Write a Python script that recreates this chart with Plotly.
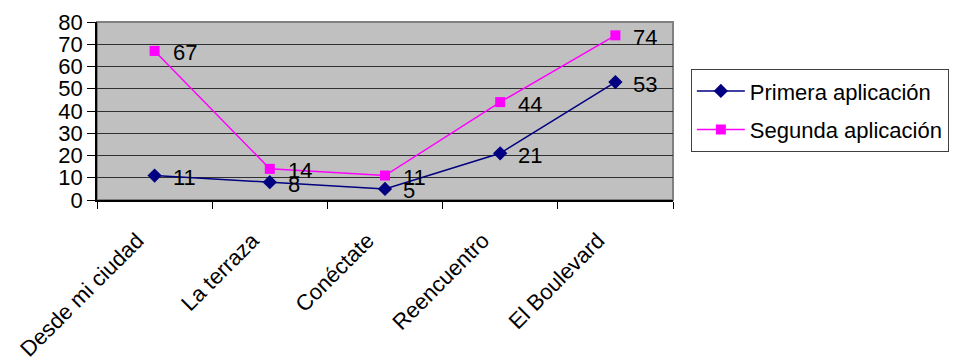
import plotly.graph_objects as go

categorias = ["Desde mi ciudad", "La terraza", "Conéctate", "Reencuentro", "El Boulevard"]
primera = [11, 8, 5, 21, 53]
segunda = [67, 14, 11, 44, 74]
y_ticks = [0, 10, 20, 30, 40, 50, 60, 70, 80]

FONT = "Liberation Sans, Arial, sans-serif"
FS = 22

fig = go.Figure()
series = [
    ("Primera aplicación", primera, "#000080", "diamond", 11, "a"),
    ("Segunda aplicación", segunda, "#FF00FF", "square", 10, "b"),
]
for nombre, valores, color, simbolo, tam, grupo in series:
    fig.add_trace(go.Scatter(
        x=categorias, y=valores, name=nombre, legendgroup=grupo,
        mode="lines+markers",
        line=dict(color=color, width=1.5),
        marker=dict(symbol=simbolo, size=tam, color=color),
        cliponaxis=False,
    ))
    # value labels to the right of each point
    for c, v in zip(categorias, valores):
        fig.add_annotation(x=c, y=v, text=str(v), showarrow=False,
                           xanchor="left", yanchor="middle", xshift=16, yshift=-2,
                           font=dict(size=FS, color="black", family=FONT))

fig.add_shape(type="rect", xref="paper", yref="paper", x0=0, y0=0, x1=1, y1=1,
              line=dict(color="#808080", width=2), fillcolor="#C0C0C0", layer="below")

# category labels, padded at the end so the rotated text sits a little lower
etiquetas = [c + "\u00a0" * 4 for c in categorias]

fig.update_layout(
    width=959, height=360,
    margin=dict(l=97, r=286, t=22, b=160, autoexpand=False),
    paper_bgcolor="white", plot_bgcolor="#C0C0C0",
    font=dict(family=FONT, size=FS, color="black"),
    showlegend=True,
    legend=dict(
        x=1.031, y=0.735, xanchor="left", yanchor="top",
        bgcolor="white", bordercolor="#404040", borderwidth=1,
        font=dict(size=FS, family=FONT), tracegroupgap=7, itemwidth=48,
    ),
    xaxis=dict(
        type="category", range=[-0.5, 4.5], tickangle=-45,
        tickvals=categorias, ticktext=etiquetas,
        tickson="boundaries", ticks="outside", ticklen=7, tickcolor="black",
        showline=True, linecolor="black", linewidth=1.5, showgrid=False,
        tickfont=dict(size=FS, family=FONT), ticklabelstandoff=0,
        automargin=False,
    ),
    yaxis=dict(
        range=[0, 80], tickvals=y_ticks, ticks="outside", ticklen=8,
        tickcolor="black", showline=True, linecolor="black", linewidth=1.5,
        showgrid=True, gridcolor="#303030", gridwidth=1, zeroline=False,
        tickfont=dict(size=FS, family=FONT), automargin=False,
    ),
)

fig.write_html("out.html")
